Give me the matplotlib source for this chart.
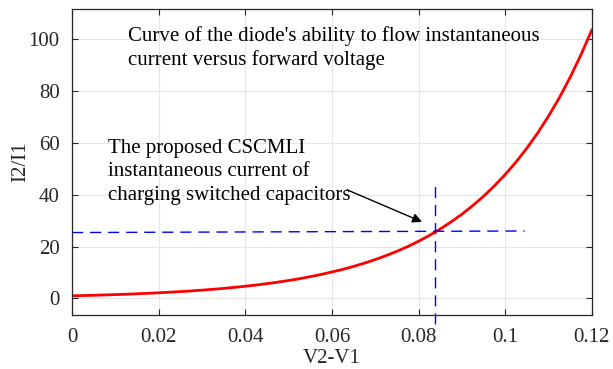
import numpy as np
import matplotlib.pyplot as plt

plt.rcParams['font.family'] = ['Liberation Serif', 'DejaVu Serif']

# values
v = [0, 0.0025, 0.005, 0.0075, 0.01, 0.0125, 0.015, 0.0175, 0.02, 0.0225,
     0.025, 0.0275, 0.03, 0.0325, 0.035, 0.0375, 0.04, 0.0425, 0.045, 0.0475,
     0.05, 0.0525, 0.055, 0.0575, 0.06, 0.0625, 0.065, 0.0675, 0.07, 0.0725,
     0.075, 0.0775, 0.08, 0.0825, 0.085, 0.0875, 0.09, 0.0925, 0.095, 0.0975,
     0.1, 0.1025, 0.105, 0.1075, 0.11, 0.1125, 0.115, 0.1175, 0.12]
ratio = [1.00, 1.10, 1.21, 1.34, 1.47, 1.62, 1.79, 1.97, 2.17, 2.39,
         2.63, 2.90, 3.19, 3.51, 3.87, 4.26, 4.70, 5.17, 5.70, 6.28,
         6.91, 7.61, 8.39, 9.24, 10.2, 11.2, 12.35, 13.6, 14.98, 16.5,
         18.18, 20.0, 22.05, 24.3, 26.76, 29.5, 32.46, 35.8, 39.38, 43.4,
         47.78, 52.6, 57.96, 63.8, 70.3, 77.4, 85.3, 94.0, 103.5]

# dashed guide lines (operating point)
h_x = [0, 0.1045]
h_y = [25.4, 26.0]
v_x = [0.0837, 0.0837]
v_y = [-9.7, 43.8]

xticks = [0, 0.02, 0.04, 0.06, 0.08, 0.1, 0.12]
xticklabels = ['0', '0.02', '0.04', '0.06', '0.08', '0.1', '0.12']
yticks = [0, 20, 40, 60, 80, 100]

fs = 15

fig = plt.figure(figsize=(6.13, 3.69), dpi=100)
ax = fig.add_axes([0.1175, 0.1463, 0.848, 0.8293])

ax.plot(v, ratio, color='red', linewidth=2)
ax.plot(h_x, h_y, color='blue', linestyle=(0, (8, 5)), linewidth=1)
ax.plot(v_x, v_y, color='blue', linestyle=(0, (8, 5)), linewidth=1, clip_on=False)

ax.set_xlim(0, 0.12)
ax.set_ylim(-6.4, 111.6)
ax.set_xticks(xticks)
ax.set_xticklabels(xticklabels)
ax.set_yticks(yticks)
ax.tick_params(direction='in', top=True, right=True, labelsize=fs, length=4,
               width=0.8, colors='#262626')
ax.tick_params(axis='x', pad=9)
ax.tick_params(axis='y', pad=9)
ax.grid(True, color='#e6e6e6', linewidth=0.8)
ax.set_axisbelow(True)
for s in ax.spines.values():
    s.set_color('#262626')
    s.set_linewidth(0.9)

ax.set_xlabel('V2-V1', fontsize=fs, color='#262626', labelpad=2)
ax.set_ylabel('I2/I1', fontsize=fs, color='#262626', labelpad=-1)

ax.text(0.0129, 105.2, "Curve of the diode's ability to flow instantaneous\ncurrent versus forward voltage",
        fontsize=fs, va='top', ha='left', linespacing=1.33)
ax.text(0.0082, 61.6, "The proposed CSCMLI\ninstantaneous current of\ncharging switched capacitors",
        fontsize=fs, va='top', ha='left', linespacing=1.33)
ax.annotate('', xy=(0.0814, 29.1), xytext=(0.0629, 42.3),
            arrowprops=dict(arrowstyle='-|>', color='black', lw=1, mutation_scale=14))

fig.savefig('out.png', dpi=100)
